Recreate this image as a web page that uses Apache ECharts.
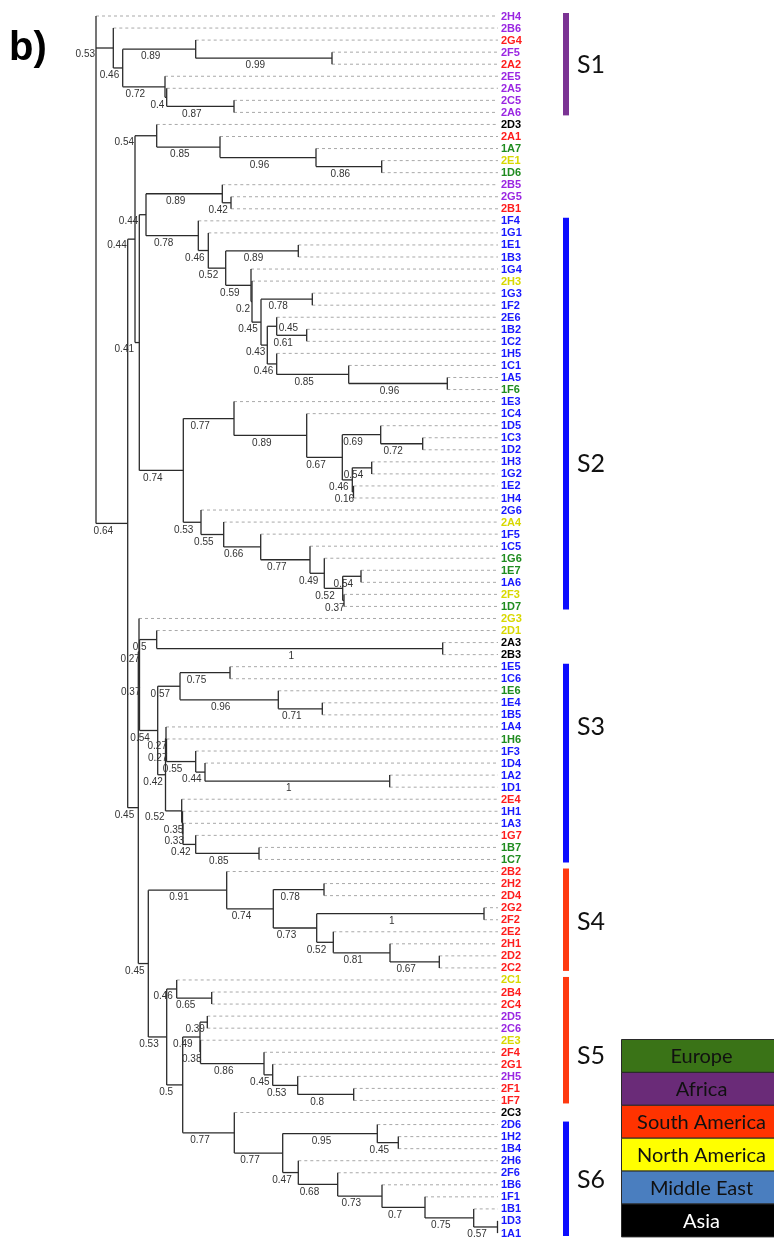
<!DOCTYPE html>
<html>
<head>
<meta charset="utf-8">
<script src="https://cdn.jsdelivr.net/npm/echarts/dist/echarts.min.js"></script>
<style>
  html, body { margin: 0; padding: 0; background: #fff; }
  #chart { width: 774px; height: 1238px; }
</style>
</head>
<body>
<div id="chart"></div>
<script>
// ---- Data ---------------------------------------------------------------
// Isolates, listed top to bottom as they appear at the tips of the tree
const leafNames = [
  '2H4','2B6','2G4','2F5','2A2','2E5','2A5','2C5','2A6','2D3',
  '2A1','1A7','2E1','1D6','2B5','2G5','2B1','1F4','1G1','1E1',
  '1B3','1G4','2H3','1G3','1F2','2E6','1B2','1C2','1H5','1C1',
  '1A5','1F6','1E3','1C4','1D5','1C3','1D2','1H3','1G2','1E2',
  '1H4','2G6','2A4','1F5','1C5','1G6','1E7','1A6','2F3','1D7',
  '2G3','2D1','2A3','2B3','1E5','1C6','1E6','1E4','1B5','1A4',
  '1H6','1F3','1D4','1A2','1D1','2E4','1H1','1A3','1G7','1B7',
  '1C7','2B2','2H2','2D4','2G2','2F2','2E2','2H1','2D2','2C2',
  '2C1','2B4','2C4','2D5','2C6','2E3','2F4','2G1','2H5','2F1',
  '1F7','2C3','2D6','1H2','1B4','2H6','2F6','1B6','1F1','1B1',
  '1D3','1A1'
];
// Region of origin of each isolate (same order as leafNames)
const leafRegions = [
  'AF','AF','SA','AF','SA','AF','AF','AF','AF','AS',
  'SA','EU','NA','EU','AF','AF','SA','ME','ME','ME',
  'ME','ME','NA','ME','ME','ME','ME','ME','ME','ME',
  'ME','EU','ME','ME','ME','ME','ME','ME','ME','ME',
  'ME','ME','NA','ME','ME','EU','EU','ME','NA','EU',
  'NA','NA','AS','AS','ME','ME','EU','ME','ME','ME',
  'EU','ME','ME','ME','ME','SA','ME','ME','SA','EU',
  'EU','SA','SA','SA','SA','SA','SA','SA','SA','SA',
  'NA','SA','SA','AF','AF','NA','SA','SA','AF','SA',
  'SA','AS','ME','ME','ME','ME','ME','ME','ME','ME',
  'ME','ME'
];
const regionCodes = ['EU','AF','SA','NA','ME','AS'];
const regionNames = ['Europe','Africa','South America','North America','Middle East','Asia'];

// Tree: internal node = [depth from root, support value, ...children]; tips are isolate names
const tipDepth = 402;
const tree =
[0, '',
  '2H4',
  [17.3, '0.53',
    '2B6',
    [26.7, '0.46',
      [99.7, '0.89', '2G4', [236, '0.99', '2F5', '2A2']],
      [69, '0.72', '2E5', [70.7, '0.4', '2A5', [138, '0.87', '2C5', '2A6']]]
    ]
  ],
  [31.7, '0.64',
    [39, '0.44',
      [60.7, '0.54', '2D3', [124, '0.85', '2A1', [220, '0.96', '1A7', [285.7, '0.86', '2E1', '1D6']]]],
      [43.3, '0.41',
        [50, '0.44',
          [126.3, '0.89', '2B5', [135, '0.42', '2G5', '2B1']],
          [102.3, '0.78', '1F4',
            [112.3, '0.46', '1G1',
              [129.7, '0.52',
                [202.3, '0.89', '1E1', '1B3'],
                [155, '0.59', '1G4',
                  [156, '0.2', '2H3',
                    [165, '0.45',
                      [216.3, '0.78', '1G3', '1F2'],
                      [171.3, '0.43',
                        [180.7, '0.45', '2E6', [210.7, '0.61', '1B2', '1C2']],
                        [180.7, '0.46', '1H5', [252.7, '0.85', '1C1', [351.3, '0.96', '1A5', '1F6']]]
                      ]
                    ]
                  ]
                ]
              ]
            ]
          ]
        ],
        [87.3, '0.74',
          [138, '0.77', '1E3',
            [210.7, '0.89', '1C4',
              [246.3, '0.67',
                [284.7, '0.69', '1D5', [326.7, '0.72', '1C3', '1D2']],
                [256.3, '0.46', [275.7, '0.54', '1H3', '1G2'], [257.5, '0.16', '1E2', '1H4']]
              ]
            ]
          ],
          [105, '0.53', '2G6',
            [127.7, '0.55', '2A4',
              [164.7, '0.66', '1F5',
                [214, '0.77', '1C5',
                  [228.3, '0.49', '1G6',
                    [246.7, '0.52', [265, '0.54', '1E7', '1A6'], [248, '0.37', '2F3', '1D7']]
                  ]
                ]
              ]
            ]
          ]
        ]
      ]
    ],
    [42.3, '0.45',
      [43, '0.27', '2G3',
        [43.5, '0.37',
          [60.7, '0.5', '2D1', [346.7, '1', '2A3', '2B3']],
          [61.7, '0.54',
            [84, '0.57', [134, '0.75', '1E5', '1C6'], [182.3, '0.96', '1E6', [226.3, '0.71', '1E4', '1B5']]],
            [69.5, '0.42',
              [70, '0.27', '1A4',
                [70.5, '0.27', '1H6',
                  [99.7, '0.55', '1F3', [109, '0.44', '1D4', [293.7, '1', '1A2', '1D1']]]
                ]
              ],
              [85.7, '0.52', '2E4',
                [86.5, '0.35', '1H1',
                  [87, '0.33', '1A3', [99.7, '0.42', '1G7', [163, '0.85', '1B7', '1C7']]]
                ]
              ]
            ]
          ]
        ]
      ],
      [52.3, '0.45',
        [130.7, '0.91', '2B2',
          [177.3, '0.74',
            [228, '0.78', '2H2', '2D4'],
            [220.7, '0.73',
              [388, '1', '2G2', '2F2'],
              [237.3, '0.52', '2E2', [294, '0.81', '2H1', [343.3, '0.67', '2D2', '2C2']]]
            ]
          ]
        ],
        [70.7, '0.53',
          [80.7, '0.46', '2C1', [115.7, '0.65', '2B4', '2C4']],
          [86.7, '0.5',
            [104, '0.49',
              [111.3, '0.39', '2D5', '2C6'],
              [104.5, '0.38', '2E3',
                [168, '0.86', '2F4',
                  [176.7, '0.45', '2G1',
                    [201.7, '0.53', '2H5', [257.7, '0.8', '2F1', '1F7']]
                  ]
                ]
              ]
            ],
            [138.3, '0.77', '2C3',
              [186.7, '0.77',
                [281.3, '0.95', '2D6', [302.3, '0.45', '1H2', '1B4']],
                [202.3, '0.47', '2H6',
                  [241.7, '0.68', '2F6',
                    [286, '0.73', '1B6',
                      [329, '0.7', '1F1',
                        [377.7, '0.75', '1B1', [401.5, '0.57', '1D3', '1A1']]
                      ]
                    ]
                  ]
                ]
              ]
            ]
          ]
        ]
      ]
    ]
  ]
];

// Clusters marked beside the tips: name, first and last isolate
const cladeNames = ['S1', 'S2', 'S3', 'S4', 'S5', 'S6'];
const cladeFirst = ['2H4', '1F4', '1E5', '2B2', '2C1', '2D6'];
const cladeLast  = ['2A6', '1D7', '1C7', '2C2', '1F7', '1A1'];

// ---- Styles & layout ----------------------------------------------------
const leafColor = { EU: '#1f8c1f', AF: '#9a26e2', SA: '#ff1c1c', NA: '#d8d800', ME: '#1818ff', AS: '#000000' };
const legendFill = { EU: '#3a7317', AF: '#6a2b78', SA: '#ff3300', NA: '#ffff00', ME: '#4a7ebf', AS: '#000000' };
const legendText = { EU: '#111', AF: '#111', SA: '#111', NA: '#111', ME: '#111', AS: '#fff' };
const cladeColor = ['#7b3394', '#0c0cff', '#0c0cff', '#ff3a10', '#ff3a10', '#0c0cff'];
const cladeLabelRow = [4.1, 37.2, 59, 75.2, 86.3, 96.6];
// support values drawn beside the parent's vertical line instead of under the branch
const labelsAtParent = new Set(['0.53@17.3', '0.54@60.7', '0.44@39', '0.41@43.3', '0.44@50', '0.52@85.7']);
// support values drawn just right of their own node
const labelsAfterNode = new Set(['0.45@180.7']);
const FONT = '"Liberation Sans", Arial, sans-serif';

// ---- Build segments from the tree --------------------------------------
const leafIndex = {};
leafNames.forEach((n, i) => { leafIndex[n] = i; });

const segments = [];   // [x1, y1, x2, y2, dashed]
const supports = [];   // {text, x0, x1, y, mode}

function walk(node, parentDepth) {
  if (typeof node === 'string') {
    const i = leafIndex[node];
    segments.push([parentDepth, i, tipDepth, i, 1]);
    return i;
  }
  const depth = node[0], support = node[1];
  const ys = node.slice(2).map(c => walk(c, depth));
  const first = ys[0], last = ys[ys.length - 1];
  const y = (first + last) / 2;
  segments.push([depth, first, depth, last, 0]);
  if (parentDepth !== null) {
    segments.push([parentDepth, y, depth, y, 0]);
    const key = support + '@' + depth;
    supports.push({ text: support, x0: parentDepth, x1: depth, y: y,
                    mode: labelsAtParent.has(key) ? 'parent' : (labelsAfterNode.has(key) ? 'after' : 'mid') });
  }
  return y;
}
walk(tree, null);

// dashed tip lines first so the solid branches sit on top
segments.sort((a, b) => b[4] - a[4]);

const chart = echarts.init(document.getElementById('chart'), null, { renderer: 'canvas' });

function segRender(params, api) {
  const p1 = api.coord([api.value(0), api.value(1)]);
  const p2 = api.coord([api.value(2), api.value(3)]);
  const dashed = api.value(4) === 1;
  return {
    type: 'line',
    shape: { x1: p1[0], y1: p1[1], x2: p2[0], y2: p2[1] },
    style: dashed
      ? { stroke: '#a9a9a9', lineWidth: 1, lineDash: [3, 3] }
      : { stroke: '#2b2b2b', lineWidth: 1.3 }
  };
}

function supportRender(params, api) {
  const s = supports[params.dataIndex];
  const a = api.coord([s.x0, s.y]);
  const b = api.coord([s.x1, s.y]);
  const base = { text: s.text, font: '10px ' + FONT, fill: '#333', verticalAlign: 'middle' };
  if (s.mode === 'parent') {
    return { type: 'text', x: a[0] - 1, y: a[1] + 6.5, style: Object.assign({ align: 'right' }, base) };
  }
  if (s.mode === 'after') {
    return { type: 'text', x: b[0] + 2, y: b[1] + 1.5, style: Object.assign({ align: 'left' }, base) };
  }
  return { type: 'text', x: (a[0] + b[0]) / 2 - 8.5, y: a[1] + 7.5, style: Object.assign({ align: 'center' }, base) };
}

function leafRender(params, api) {
  const i = params.dataIndex;
  const p = api.coord([tipDepth, i]);
  return { type: 'text', x: p[0] + 3, y: p[1] + 0.5,
    style: { text: leafNames[i], font: 'bold 11px ' + FONT, fill: leafColor[leafRegions[i]],
             align: 'left', verticalAlign: 'middle' } };
}

function cladeRender(params, api) {
  const k = params.dataIndex;
  const top = api.coord([tipDepth, leafIndex[cladeFirst[k]]]);
  const bot = api.coord([tipDepth, leafIndex[cladeLast[k]]]);
  const mid = api.coord([tipDepth, cladeLabelRow[k]]);
  const bx = top[0] + 65;
  return {
    type: 'group',
    children: [
      { type: 'rect', shape: { x: bx, y: top[1] - 3, width: 6, height: bot[1] - top[1] + 6 },
        style: { fill: cladeColor[k] } },
      { type: 'text', x: bx + 14, y: mid[1],
        style: { text: cladeNames[k], font: '25px Lato, "Open Sans", sans-serif', fill: '#111',
                 align: 'left', verticalAlign: 'middle' } }
    ]
  };
}

// legend boxes for the regions
const legendEls = [];
const LX = 621.5, LY = 1039.5, LW = 160, LH = 32.9;
regionCodes.forEach((c, r) => {
  legendEls.push({ type: 'rect', x: LX, y: LY + r * LH, shape: { x: 0, y: 0, width: LW, height: LH },
    style: { fill: legendFill[c], stroke: '#2a2a2a', lineWidth: 1 } });
  legendEls.push({ type: 'text', x: LX + 80, y: LY + r * LH + LH / 2 + 1,
    style: { text: regionNames[r], font: '20px Lato, "Open Sans", sans-serif', fill: legendText[c],
             align: 'center', verticalAlign: 'middle' } });
});
legendEls.push({ type: 'text', x: 9, y: 49,
  style: { text: 'b)', font: 'bold 40px ' + FONT, fill: '#000', align: 'left', verticalAlign: 'middle' } });

chart.setOption({
  animation: false,
  grid: { left: 96, top: 16, width: 402, height: 1217 },
  xAxis: { type: 'value', min: 0, max: tipDepth, show: false },
  yAxis: { type: 'value', min: 0, max: leafNames.length - 1, inverse: true, show: false },
  series: [
    { type: 'custom', renderItem: segRender, data: segments, encode: { x: [0, 2], y: [1, 3] },
      clip: false, silent: true, z: 2 },
    { type: 'custom', renderItem: supportRender, data: supports.map(s => [s.x0, s.y]),
      encode: { x: 0, y: 1 }, clip: false, silent: true, z: 3 },
    { type: 'custom', renderItem: leafRender, data: leafNames.map((n, i) => [tipDepth, i]),
      encode: { x: 0, y: 1 }, clip: false, silent: true, z: 3 },
    { type: 'custom', renderItem: cladeRender, data: cladeNames.map((n, k) => [tipDepth, k]),
      encode: { x: 0, y: 1 }, clip: false, silent: true, z: 3 }
  ],
  graphic: { elements: legendEls }
});
</script>
</body>
</html>
